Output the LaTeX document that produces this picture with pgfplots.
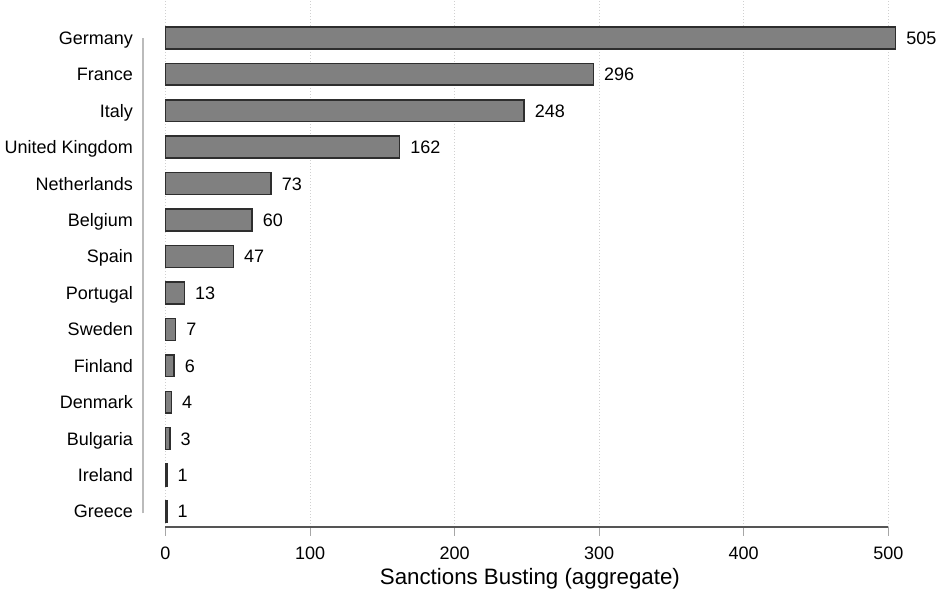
\documentclass[border=0pt]{standalone}
\usepackage{pgfplots}
\pgfplotsset{compat=1.18}
\usepackage{fontspec}
\setmainfont{Liberation Sans}
\definecolor{barfill}{HTML}{808080}
\definecolor{barline}{HTML}{2E2E2E}
\definecolor{gridc}{HTML}{D0D0D0}
\definecolor{yaxisc}{HTML}{BBBBBB}
\definecolor{xaxisc}{HTML}{555555}
\begin{document}
\begin{tikzpicture}
\path[use as bounding box] (-165.5pt,-66pt) rectangle (771.5pt,527pt);
\begin{axis}[
  at={(0,0)}, anchor=south west,
  scale only axis,
  width=722.8pt, height=527pt,
  xbar, bar width=0.6,
  xmin=0, xmax=500,
  ymin=-0.426, ymax=14.04,
  xtick={0,100,...,500},
  ytick={0,...,13},
  yticklabels={Greece,Ireland,Bulgaria,Denmark,Finland,Sweden,Portugal,Spain,Belgium,Netherlands,United Kingdom,Italy,France,Germany},
  axis x line*=bottom,
  axis y line=left,
  y axis line style={draw=none},
  x axis line style={draw=xaxisc, line width=1.3pt, -},
  ytick style={draw=none},
  xtick style={draw=gray!70, line width=1pt},
  tick align=outside,
  major tick length=9pt,
  xmajorgrids,
  grid style={draw=gridc, line width=0.9pt, dash pattern=on 1pt off 2pt},
  /pgf/number format/assume math mode=true,
  tick label style={font=\fontsize{18}{20}\selectfont, text=black},
  xticklabel style={anchor=base, yshift=-24pt},
  yticklabel style={anchor=base east, inner sep=0pt, xshift=-23.5pt, yshift=-6.5pt},
  xlabel={Sanctions Busting (aggregate)},
  every axis x label/.style={at={(axis description cs:0.5,0)}, anchor=center, xshift=3pt, yshift=-52pt, font=\fontsize{22.3}{26}\selectfont},
  nodes near coords,
  every node near coord/.append style={font=\fontsize{18}{20}\selectfont, anchor=base west, inner sep=0pt, xshift=10pt, yshift=-6.5pt, text=black},
  clip=false,
]
\addplot[fill=barfill, draw=barline, line width=1.5pt] coordinates {
  (1,0) (1,1) (3,2) (4,3) (6,4) (7,5) (13,6) (47,7) (60,8) (73,9) (162,10) (248,11) (296,12) (505,13)
};
\draw[yaxisc, line width=1.4pt] (axis cs:-15.6,-0.05) -- (axis cs:-15.6,13);
\end{axis}
\end{tikzpicture}
\end{document}
